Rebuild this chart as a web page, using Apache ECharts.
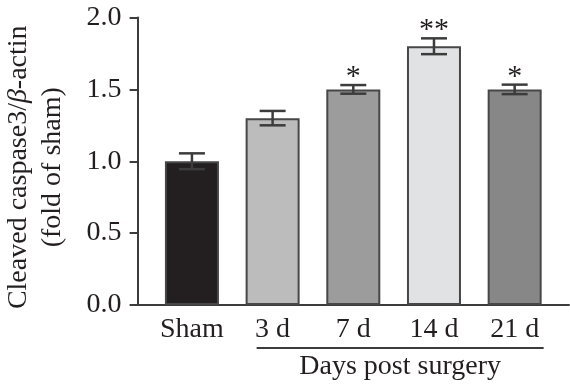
<!DOCTYPE html>
<html>
<head>
<meta charset="utf-8">
<script src="https://cdn.jsdelivr.net/npm/echarts@6/dist/echarts.min.js"></script>
<style>html,body{margin:0;padding:0;background:#fff;}#c{width:570px;height:386px;}</style>
</head>
<body>
<div id="c"></div>
<script>
const categories = ['Sham', '3 d', '7 d', '14 d', '21 d'];
const means = [1.00, 1.30, 1.50, 1.80, 1.50];
const errors = [0.055, 0.05, 0.03, 0.055, 0.033];
const significance = ['', '', '*', '**', '*'];
const barColors = ['#231f20', '#bcbcbc', '#9c9c9c', '#e1e2e3', '#878787'];
const yTicks = [0, 0.5, 1.0, 1.5, 2.0];
const groupLabel = 'Days post surgery';

const FONT = 'Liberation Serif';
const FS = 28;
const TXT = '#231f20';
const LINE = '#3c3c3c';

const chart = echarts.init(document.getElementById('c'), null, {renderer: 'canvas'});

const errData = categories.map((c, i) => [i, means[i] - errors[i], means[i] + errors[i], significance[i]]);

const option = {
  animation: false,
  backgroundColor: '#fff',
  grid: [
    {left: 151.6, right: 15, top: 17.5, bottom: 81, outerBoundsMode: 'none', containLabel: false},
    {left: 137.5, right: 1, top: 17.5, bottom: 81, outerBoundsMode: 'none', containLabel: false}
  ],
  xAxis: [
    {
      type: 'category', gridIndex: 0, data: categories,
      axisLine: {show: false}, axisTick: {show: false},
      axisLabel: {fontFamily: FONT, fontSize: FS, color: TXT, margin: 11, interval: 0, hideOverlap: false}
    },
    {
      type: 'value', gridIndex: 1, min: 0, max: 1,
      axisLine: {show: true, lineStyle: {color: LINE, width: 2}},
      axisTick: {show: false}, axisLabel: {show: false}, splitLine: {show: false}
    }
  ],
  yAxis: [
    {
      type: 'value', gridIndex: 0, min: yTicks[0], max: yTicks[yTicks.length - 1], interval: 0.5,
      offset: 14,
      axisLine: {show: true, lineStyle: {color: LINE, width: 2}},
      axisTick: {show: true, length: 8, lineStyle: {color: LINE, width: 2}},
      splitLine: {show: false},
      axisLabel: {fontFamily: FONT, fontSize: FS, color: TXT, margin: 16, formatter: v => v.toFixed(1)},
      name: '{a|Cleaved caspase3/}{b|β}{a|-actin}\n{a|(fold of sham)}',
      nameLocation: 'middle', nameRotate: 90, nameGap: 68,
      nameTextStyle: {
        fontFamily: FONT, fontSize: FS, color: TXT, lineHeight: 34, padding: [0, 12, 0, 0],
        rich: {
          a: {fontFamily: FONT, fontSize: FS, color: TXT, lineHeight: 34},
          b: {fontFamily: FONT, fontSize: FS, color: TXT, fontStyle: 'italic', lineHeight: 34}
        }
      }
    },
    {
      type: 'value', gridIndex: 1, min: 0, max: 2, show: false
    }
  ],
  series: [
    {
      type: 'bar', xAxisIndex: 0, yAxisIndex: 0, barWidth: 54,
      data: means.map((v, i) => ({value: v, itemStyle: {color: barColors[i], borderColor: '#474747', borderWidth: 2}}))
    },
    {
      type: 'custom', xAxisIndex: 0, yAxisIndex: 0, z: 5,
      data: errData,
      renderItem: function (params, api) {
        const x = api.value(0);
        const lo = api.coord([x, api.value(1)]);
        const hi = api.coord([x, api.value(2)]);
        const hw = 13;
        const st = {stroke: LINE, lineWidth: 2.5};
        const children = [
          {type: 'line', shape: {x1: lo[0], y1: lo[1], x2: hi[0], y2: hi[1]}, style: st},
          {type: 'line', shape: {x1: lo[0] - hw, y1: lo[1], x2: lo[0] + hw, y2: lo[1]}, style: st},
          {type: 'line', shape: {x1: hi[0] - hw, y1: hi[1], x2: hi[0] + hw, y2: hi[1]}, style: st}
        ];
        const sig = api.value(3);
        if (sig) {
          children.push({
            type: 'text',
            style: {text: sig, x: hi[0], y: hi[1] + 7, align: 'center', verticalAlign: 'bottom',
                    font: '30px "' + FONT + '"', fill: TXT}
          });
        }
        return {type: 'group', children: children};
      }
    }
  ]
};
chart.setOption(option);

// bracket under the post-surgery groups
const p1 = chart.convertToPixel({xAxisIndex: 0}, categories[1]);
const p2 = chart.convertToPixel({xAxisIndex: 0}, categories[4]);
const base = chart.convertToPixel({yAxisIndex: 0}, 0);
chart.setOption({
  graphic: [
    {type: 'line', shape: {x1: p1 - 16, y1: base + 43, x2: p2 + 29, y2: base + 43},
     style: {stroke: LINE, lineWidth: 2}},
    {type: 'text', style: {text: groupLabel, x: (p1 - 16 + p2 + 29) / 2, y: base + 62,
      align: 'center', verticalAlign: 'middle', font: FS + 'px "' + FONT + '"', fill: TXT}}
  ]
});
</script>
</body>
</html>
